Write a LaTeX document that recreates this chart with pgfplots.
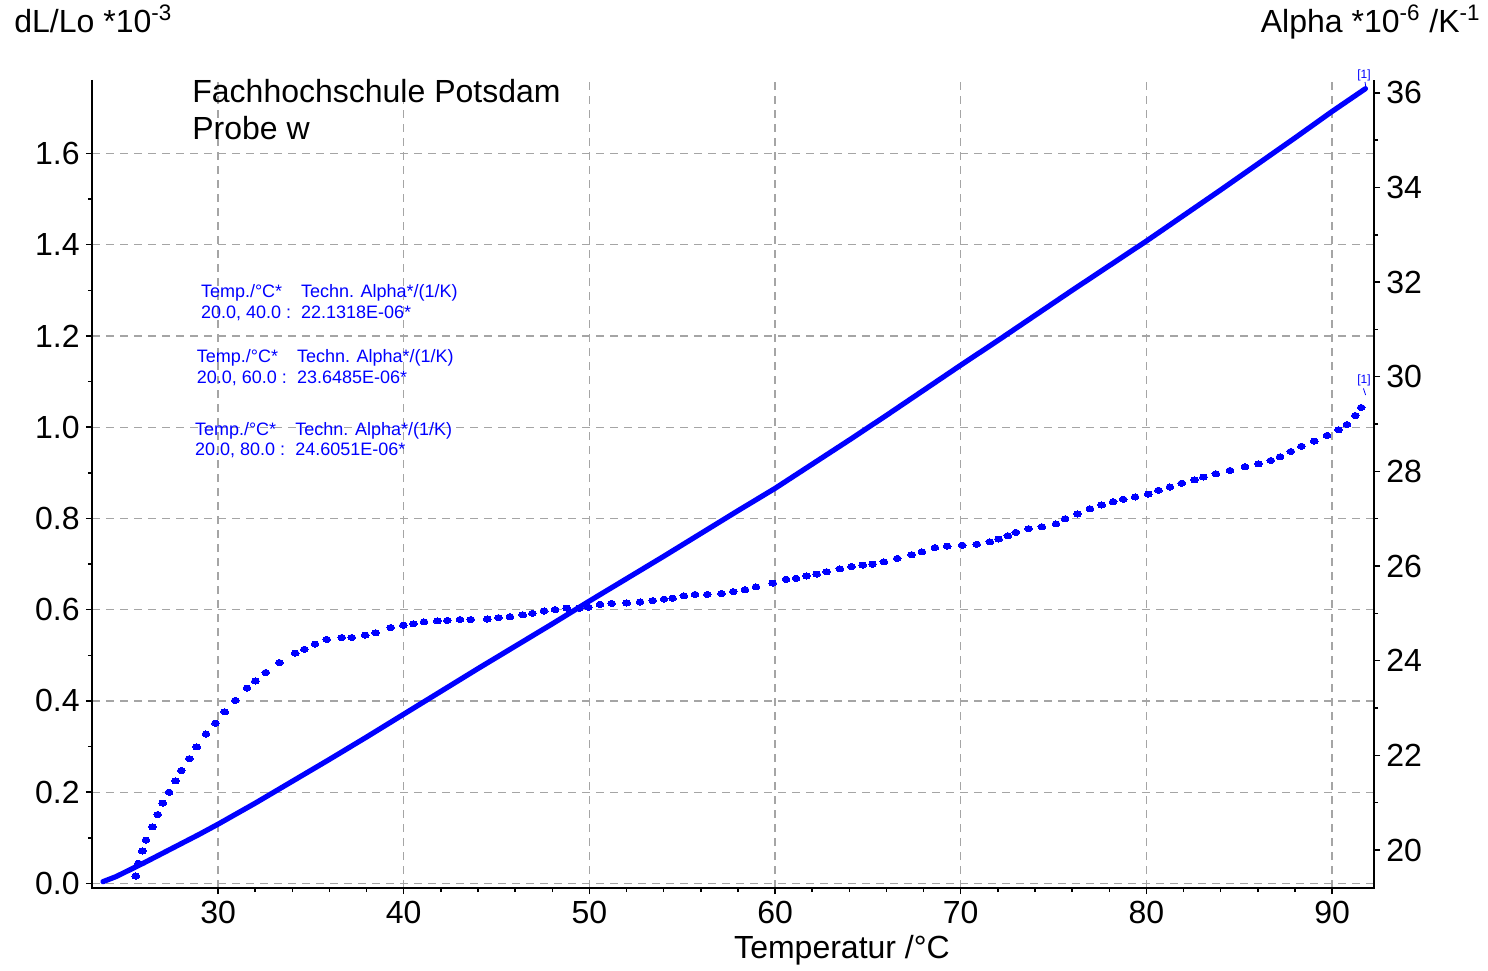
\documentclass[border=0pt]{standalone}
\usepackage{fontspec}
\setmainfont{Liberation Sans}
\usepackage{pgfplots}
\pgfplotsset{compat=1.18}
\newcommand{\bigf}{\fontsize{16}{19}\selectfont}
\newcommand{\smf}{\fontsize{9}{10.8}\selectfont}
\newcommand{\tinyf}{\fontsize{6}{7}\selectfont}
\definecolor{gridc}{RGB}{165,165,165}
\definecolor{ablue}{RGB}{0,0,255}
\pgfplotsset{
  common/.style={
    scale only axis, width=641pt, height=404pt,
    at={(0,0)}, anchor=south west,
    xmin=23.21, xmax=92.26,
    tick align=outside,
    major tick length=3pt, minor tick length=2pt,
    every tick/.append style={black, line width=0.75pt},
    axis line style={draw=none},
    tick label style={font=\bigf},
    /pgf/number format/assume math mode=true,
  }
}
\begin{document}
\begin{tikzpicture}
\useasboundingbox (-46pt,-41pt) rectangle (698pt,444pt);
\begin{axis}[common,
  ymin=-0.0099, ymax=1.761,
  xtick={30,40,50,60,70,80,90}, minor x tick num=4,
  ytick={0,0.2,0.4,0.6,0.8,1.0,1.2,1.4,1.6}, minor y tick num=1,
  xtick pos=left, ytick pos=left,
  grid=major,
  major grid style={gridc, dash pattern=on 4pt off 3pt, line width=0.6pt},
  yticklabel style={inner xsep=3pt, /pgf/number format/.cd, fixed, fixed zerofill, precision=1, assume math mode=true},
]
\addplot[ablue, line width=2.6pt, line join=round, line cap=round] coordinates {
(23.8,0.004) (24.5,0.015) (25.0,0.025) (26.0,0.045) (27.0,0.066) (28.0,0.087) (29.0,0.108)
(30.0,0.130) (32.0,0.176) (34.0,0.224) (36.0,0.272) (38.0,0.321) (40.0,0.371)
(42.0,0.421) (44.0,0.471) (46.0,0.520) (48.0,0.569) (50.0,0.619) (52.0,0.668)
(54.0,0.717) (56.0,0.767) (58.0,0.817) (60.0,0.866) (62.0,0.919) (64.0,0.972)
(66.0,1.026) (68.0,1.081) (70.0,1.136) (72.0,1.190) (74.0,1.245) (76.0,1.300)
(78.0,1.354) (80.0,1.408) (82.0,1.464) (84.0,1.520) (86.0,1.577) (88.0,1.634)
(90.0,1.692) (91.8,1.742)
};
\end{axis}
\begin{axis}[common,
  ymin=19.197, ymax=36.27,
  hide x axis,
  ytick={20,22,24,26,28,30,32,34,36}, minor y tick num=1,
  ytick pos=right, yticklabel pos=right,
  yticklabel style={inner xsep=3pt},
]
\addplot[color=ablue, only marks, mark=*, mark size=1.7pt,
  mark options={fill=ablue, draw=ablue, line width=0pt, xscale=1.15, yscale=0.9}] table {
25.57 19.45
25.71 19.72
25.92 19.98
26.12 20.21
26.46 20.49
26.75 20.75
27.02 20.99
27.36 21.22
27.70 21.46
28.02 21.68
28.45 21.93
28.85 22.18
29.35 22.45
29.86 22.68
30.36 22.92
30.93 23.16
31.56 23.42
32.01 23.57
32.57 23.75
33.30 23.96
34.15 24.16
34.65 24.24
35.22 24.35
35.85 24.45
36.66 24.49
37.20 24.49
37.92 24.54
38.49 24.59
39.30 24.70
39.98 24.75
40.52 24.78
41.09 24.82
41.81 24.84
42.35 24.85
43.03 24.87
43.61 24.87
44.50 24.88
45.10 24.91
45.72 24.93
46.41 24.97
46.93 25.00
47.56 25.05
48.15 25.08
48.78 25.11
49.46 25.11
49.94 25.13
50.57 25.19
51.20 25.21
52.01 25.22
52.73 25.24
53.41 25.27
54.02 25.30
54.48 25.32
55.09 25.37
55.69 25.40
56.35 25.40
57.12 25.42
57.75 25.46
58.38 25.50
58.97 25.56
59.87 25.64
60.59 25.72
61.13 25.74
61.70 25.79
62.24 25.83
62.78 25.88
63.49 25.94
64.12 25.99
64.72 26.02
65.25 26.04
65.86 26.09
66.58 26.16
67.36 26.24
67.91 26.30
68.61 26.39
69.27 26.42
70.08 26.44
70.86 26.46
71.57 26.51
72.04 26.57
72.54 26.64
72.97 26.71
73.66 26.79
74.37 26.83
75.13 26.89
75.62 27.00
76.29 27.10
76.96 27.21
77.59 27.29
78.21 27.36
78.75 27.41
79.39 27.46
80.10 27.52
80.65 27.60
81.27 27.67
81.91 27.75
82.60 27.82
83.07 27.88
83.74 27.95
84.50 28.02
85.31 28.10
86.03 28.16
86.70 28.23
87.20 28.31
87.78 28.42
88.35 28.53
89.04 28.64
89.73 28.76
90.35 28.88
90.80 28.99
91.25 29.18
91.57 29.35
};
\end{axis}
% axis lines (left, bottom, right; no top)
\draw[black, line width=1pt] (0,404pt) -- (0,0) -- (641pt,0) -- (641pt,404pt);
% titles
\node[anchor=base west, inner sep=0, font=\bigf] at (-39pt,427.5pt) {dL/Lo *10\textsuperscript{-3}};
\node[anchor=base east, inner sep=0, font=\bigf] at (694.5pt,427.5pt) {Alpha *10\textsuperscript{-6} /K\textsuperscript{-1}};
\node[anchor=base, inner sep=0, font=\bigf] at (375pt,-35pt) {Temperatur /°C};
\node[anchor=base west, inner sep=0, font=\bigf] at (50pt,392.5pt) {Fachhochschule Potsdam};
\node[anchor=base west, inner sep=0, font=\bigf] at (50pt,374pt) {Probe w};
% annotation blocks
\begin{scope}[every node/.style={anchor=base west, inner sep=0, font=\smf, text=ablue}]
\node at (54.3pt,295.3pt) {Temp./°C*};
\node at (104.3pt,295.3pt) {Techn. Alpha*/(1/K)};
\node at (54.3pt,284.8pt) {20.0, 40.0 :};
\node at (104.3pt,284.8pt) {22.1318E-06*};
\node at (52.2pt,262.7pt) {Temp./°C*};
\node at (102.3pt,262.7pt) {Techn. Alpha*/(1/K)};
\node at (52.2pt,252.3pt) {20.0, 60.0 :};
\node at (102.3pt,252.3pt) {23.6485E-06*};
\node at (51.3pt,226.2pt) {Temp./°C*};
\node at (101.5pt,226.2pt) {Techn. Alpha*/(1/K)};
\node at (51.3pt,216.2pt) {20.0, 80.0 :};
\node at (101.5pt,216.2pt) {24.6051E-06*};
\end{scope}
% curve tags
\node[inner sep=0, font=\tinyf, text=ablue] at (636pt,406.5pt) {[1]};
\draw[ablue, line width=0.4pt] (636.5pt,403pt) -- (637pt,400pt);
\node[inner sep=0, font=\tinyf, text=ablue] at (636pt,254pt) {[1]};
\draw[ablue, line width=0.4pt] (635.7pt,249.8pt) -- (636.8pt,246.5pt);
\end{tikzpicture}
\end{document}
